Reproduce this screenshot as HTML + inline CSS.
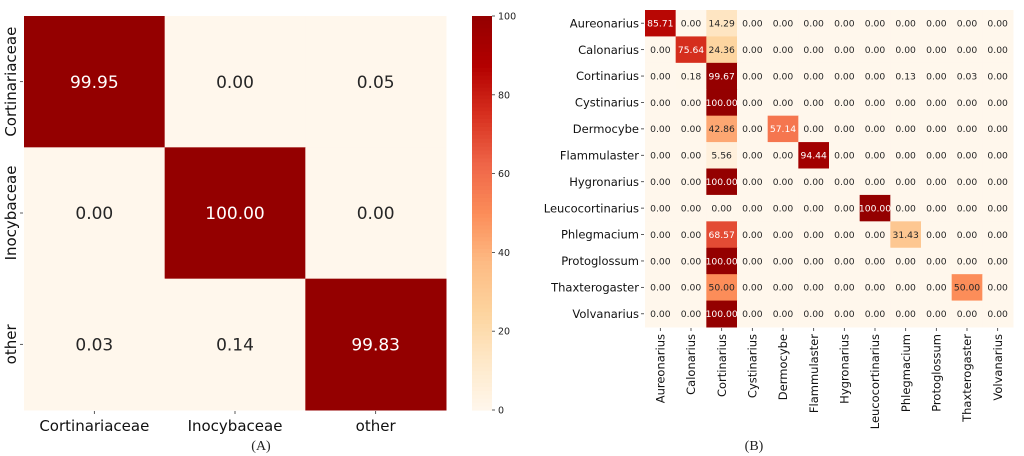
<!DOCTYPE html>
<html><head><meta charset="utf-8"><style>
body{margin:0;background:#fff;width:1024px;height:456px;overflow:hidden;font-family:"DejaVu Sans","Liberation Sans",sans-serif}
svg{display:block}
</style></head><body>
<svg id="chart" width="1024" height="456" viewBox="0 0 1024 456"></svg>
<script>
const famCats=["Cortinariaceae","Inocybaceae","other"];
const famVals=[[99.95,0.00,0.05],[0.00,100.00,0.00],[0.03,0.14,99.83]];
const genCats=["Aureonarius","Calonarius","Cortinarius","Cystinarius","Dermocybe","Flammulaster","Hygronarius","Leucocortinarius","Phlegmacium","Protoglossum","Thaxterogaster","Volvanarius"];
const genVals=[
[85.71,0,14.29,0,0,0,0,0,0,0,0,0],
[0,75.64,24.36,0,0,0,0,0,0,0,0,0],
[0,0.18,99.67,0,0,0,0,0,0.13,0,0.03,0],
[0,0,100,0,0,0,0,0,0,0,0,0],
[0,0,42.86,0,57.14,0,0,0,0,0,0,0],
[0,0,5.56,0,0,94.44,0,0,0,0,0,0],
[0,0,100,0,0,0,0,0,0,0,0,0],
[0,0,0,0,0,0,0,100,0,0,0,0],
[0,0,68.57,0,0,0,0,0,31.43,0,0,0],
[0,0,100,0,0,0,0,0,0,0,0,0],
[0,0,50,0,0,0,0,0,0,0,50,0],
[0,0,100,0,0,0,0,0,0,0,0,0]];
const cbTicks=[0,20,40,60,80,100];

const NS="http://www.w3.org/2000/svg";
const svg=document.getElementById('chart');
const stops=[[0,[255,247,236]],[.125,[254,232,200]],[.25,[253,212,158]],[.375,[253,187,132]],[.5,[252,141,89]],[.625,[239,101,72]],[.75,[215,48,31]],[.875,[179,0,0]],[1,[148,0,0]]];
function color(v){const t=Math.max(0,Math.min(1,v/100));for(let i=1;i<stops.length;i++){if(t<=stops[i][0]){const a=stops[i-1],b=stops[i],f=(t-a[0])/(b[0]-a[0]);return 'rgb('+a[1].map((c,k)=>Math.round(c+(b[1][k]-c)*f)).join(',')+')';}}return 'rgb(148,0,0)';}
function el(tag,attrs,parent){const e=document.createElementNS(NS,tag);for(const k in attrs)e.setAttribute(k,attrs[k]);(parent||svg).appendChild(e);return e;}
function txt(s,attrs){const e=el('text',attrs);e.textContent=s;return e;}

function heat(cats,vals,x0,y0,w,h,fs,lfs,rotX,name){
  const n=cats.length,cw=w/n,ch=h/n;
  const xs=i=>x0+i*cw, ys=j=>y0+j*ch;
  vals.forEach((row,j)=>row.forEach((v,i)=>{
    const r=el('rect',{x:xs(i),y:ys(j),width:cw+0.5,height:ch+0.5,fill:color(v)});
    
    
    const t=txt(v.toFixed(2),{x:xs(i)+cw/2,y:ys(j)+ch/2+fs*0.36,'text-anchor':'middle','font-size':fs,fill:v>50?'#fff':'#262626'});
    
    
  }));
  cats.forEach((c,j)=>{
    const cy=ys(j)+ch/2;
    el('line',{x1:x0-4,x2:x0-1,y1:cy,y2:cy,stroke:'#333','stroke-width':0.8});
    let t;
    if(rotX) t=txt(c,{x:x0-6,y:cy+lfs*0.36,'text-anchor':'end','font-size':lfs,fill:'#111'});
    else t=txt(c,{x:0,y:0,transform:`translate(${x0-8},${cy}) rotate(-90)`,'text-anchor':'middle','font-size':lfs,fill:'#111'});
    
    
  });
  cats.forEach((c,i)=>{
    const cx=xs(i)+cw/2,yb=y0+h;
    el('line',{x1:cx,x2:cx,y1:yb+1,y2:yb+4,stroke:'#333','stroke-width':0.8});
    let t;
    if(rotX) t=txt(c,{x:0,y:0,transform:`translate(${cx+lfs*0.36},${yb+7}) rotate(-90)`,'text-anchor':'end','font-size':lfs,fill:'#111'});
    else t=txt(c,{x:cx,y:yb+lfs+6,'text-anchor':'middle','font-size':lfs,fill:'#111'});
    
    
  });
}
heat(famCats,famVals,24,16,422,394,17,15,false,'family');
heat(genCats,genVals,645,10,368,317,9.2,11.5,true,'genus');

// colorbar
const cbx=472,cby0=16,cby1=410,cbw=20;
const cbY=v=>cby1-(cby1-cby0)*v/100;
for(let v=0;v<100;v+=1){el('rect',{x:cbx,y:cbY(v+1),width:cbw,height:(cby1-cby0)/100+0.6,fill:color(v+0.5)});}
cbTicks.forEach(v=>{
  el('line',{x1:cbx+cbw,x2:cbx+cbw+3,y1:cbY(v),y2:cbY(v),stroke:'#333','stroke-width':0.8});
  const t=txt(String(v),{x:cbx+cbw+6,y:cbY(v)+3.5,'font-size':9.5,fill:'#222'});
  
  
});
const a=txt('(A)',{x:261,y:450,'text-anchor':'middle','font-size':14,'font-family':'Liberation Serif,serif',fill:'#222'});

const b=txt('(B)',{x:754,y:450,'text-anchor':'middle','font-size':14,'font-family':'Liberation Serif,serif',fill:'#222'});

</script>
</body></html>
